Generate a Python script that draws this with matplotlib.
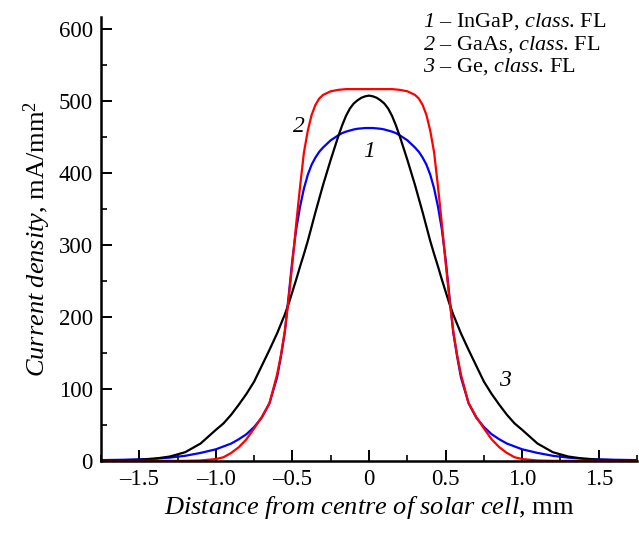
import numpy as np
import matplotlib
matplotlib.use("Agg")
import matplotlib.pyplot as plt
from matplotlib.ticker import MultipleLocator, FuncFormatter

plt.rcParams['font.family'] = ['Liberation Serif', 'DejaVu Serif']
plt.rcParams['mathtext.fontset'] = 'custom'
plt.rcParams['mathtext.rm'] = 'Liberation Serif'
plt.rcParams['mathtext.it'] = 'Liberation Serif:italic'
plt.rcParams['mathtext.cal'] = 'Liberation Serif:italic'
plt.rcParams['font.size'] = 16.5

# distance from centre (one side, profiles are symmetric), mm
d = [0, 0.025, 0.05, 0.075, 0.1, 0.125, 0.15, 0.175, 0.2, 0.25, 0.3, 0.325,
     0.35, 0.375, 0.4, 0.425, 0.45, 0.475, 0.5, 0.525, 0.55, 0.575, 0.6, 0.65,
     0.7, 0.75, 0.8, 0.85, 0.9, 0.95, 1.0, 1.1, 1.2, 1.3, 1.4, 1.5, 1.6, 1.75]

# current density, mA/mm^2
ingap = [462, 462, 461.5, 461, 460, 458.5, 457, 455, 452, 445, 435, 429,
         421, 411, 397, 378, 353, 322, 280, 228, 178, 145, 116, 80,
         60, 47, 37, 30, 24, 20, 16, 11, 7, 4.5, 3, 2, 1.5, 1]
gaas = [516, 516, 516, 516, 516, 516, 516, 515.5, 515, 513, 508, 503,
        494, 480, 458, 428, 381, 330, 275, 225, 180, 147, 120, 80,
        61, 45, 30, 19, 11, 5, 2.5, 0.5, 0, 0, 0, 0, 0, 0]
ge = [507, 506, 504, 500.5, 496, 489, 479, 466, 451, 418, 383, 364,
      345, 325, 305, 287, 270, 252, 235, 218, 203, 190, 177, 154,
      132, 110, 93, 78, 64, 52, 43, 24, 12, 6, 3, 1.5, 1, 0.5]


def full(vals, sign=1):
    v = np.array(vals, dtype=float)
    if sign < 0:
        return np.concatenate([-v[::-1], v[1:]])
    return np.concatenate([v[::-1], v[1:]])


x = full(d, -1)

fig = plt.figure(figsize=(6.39, 5.34), dpi=100)
ax = fig.add_axes([0.158, 0.137, 0.839, 0.831])

ax.plot(x, full(ingap), color='#0000ff', lw=1.6)
ax.plot(x, full(ge), color='black', lw=1.6)
ax.plot(x, full(gaas), color='#ff0000', lw=1.6)

ax.set_xlim(-1.75, 1.75)
ax.set_ylim(0, 616)

ax.spines['top'].set_visible(False)
ax.spines['right'].set_visible(False)
ax.spines['left'].set_linewidth(1.8)
ax.spines['bottom'].set_linewidth(1.8)

ax.xaxis.set_major_locator(MultipleLocator(0.5))
ax.xaxis.set_minor_locator(MultipleLocator(0.25))
ax.yaxis.set_major_locator(MultipleLocator(100))
ax.yaxis.set_minor_locator(MultipleLocator(50))
ax.xaxis.set_major_formatter(FuncFormatter(
    lambda v, p: '0' if abs(v) < 1e-9 else f'{v:.1f}'.replace('-', '\u2013')))
ax.tick_params(which='major', direction='in', length=8, width=1.4, pad=6)
ax.tick_params(which='minor', direction='in', length=4.5, width=1.2)

ax.set_xlabel(r'$\mathit{Distance\ from\ centre\ of\ solar\ cell}$, mm',
              fontsize=19, labelpad=3)
ax.set_ylabel(r'$\mathit{Current\ density}$, mA/mm$^2$',
              fontsize=19, labelpad=4)

ax.text(0, 429, '1', style='italic', ha='center', va='center', fontsize=17)
ax.text(-0.46, 464, '2', style='italic', ha='center', va='center', fontsize=17)
ax.text(0.89, 112, '3', style='italic', ha='center', va='center', fontsize=17)

legend_lines = [r'$\mathcal{1}$ – InGaP, $\mathit{class}$. FL',
                r'$\mathcal{2}$ – GaAs, $\mathit{class}$. FL',
                r'$\mathcal{3}$ – Ge, $\mathit{class}$. FL']
for i, s in enumerate(legend_lines):
    fig.text(423 / 639, 1 - (27 + 22.5 * i) / 534, s, va='baseline', ha='left',
             fontsize=16)

fig.savefig('out.png', dpi=100)
